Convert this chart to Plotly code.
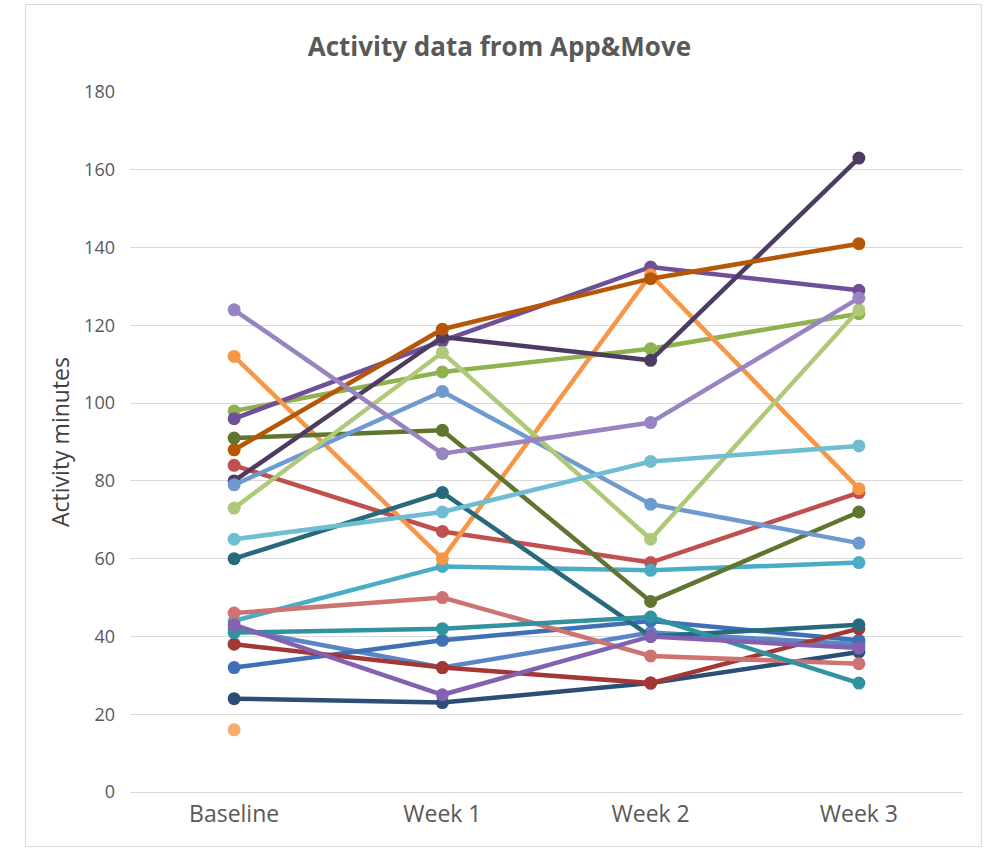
import plotly.graph_objects as go

categories = ["Baseline", "Week 1", "Week 2", "Week 3"]

# series values (activity minutes) and colours
blue = [32, 39, 44, 39]
red = [84, 67, 59, 77]
green = [98, 108, 114, 123]
purple = [96, 116, 135, 129]
aqua = [44, 58, 57, 59]
orange = [112, 60, 133, 78]
navy = [24, 23, 28, 36]
dark_red = [38, 32, 28, 42]
olive = [91, 93, 49, 72]
dark_purple = [80, 117, 111, 163]
dark_teal = [60, 77, 40, 43]
dark_orange = [88, 119, 132, 141]
light_blue = [79, 103, 74, 64]
salmon = [46, 50, 35, 33]
light_green = [73, 113, 65, 124]
light_purple = [124, 87, 95, 127]
light_aqua = [65, 72, 85, 89]
light_orange = [16, None, None, None]
teal = [41, 42, 45, 28]
violet = [43, 25, 40, 37]
mid_blue = [42, 32, 41, 38]

series = [
    ("S21", mid_blue, "#5A86C8"),
    ("S1", blue, "#3F6FB5"),
    ("S2", red, "#C0504D"),
    ("S3", green, "#8DB24E"),
    ("S4", purple, "#6F4F98"),
    ("S5", aqua, "#4BACC6"),
    ("S6", orange, "#F79646"),
    ("S7", navy, "#2C4D75"),
    ("S8", dark_red, "#A33734"),
    ("S9", olive, "#5F7530"),
    ("S10", dark_purple, "#4D3B62"),
    ("S11", dark_teal, "#276A7C"),
    ("S12", dark_orange, "#B65708"),
    ("S13", light_blue, "#6F9AD0"),
    ("S14", salmon, "#CD7371"),
    ("S15", light_green, "#AFC97A"),
    ("S16", light_purple, "#9983C0"),
    ("S17", light_aqua, "#6FBDD1"),
    ("S18", light_orange, "#F9AB6B"),
    ("S19", teal, "#31939F"),
    ("S20", violet, "#8460B0"),
]

fig = go.Figure()
for name, vals, col in series:
    fig.add_trace(go.Scatter(
        x=categories, y=vals, name=name, mode="lines+markers",
        line=dict(color=col, width=4.5),
        marker=dict(color=col, size=13),
        connectgaps=False,
    ))

font_family = "Open Sans, Noto Sans, DejaVu Sans, sans-serif"

fig.update_layout(
    width=987, height=851,
    margin=dict(l=130, r=24, t=92, b=59),
    paper_bgcolor="white", plot_bgcolor="white",
    showlegend=False,
    font=dict(family=font_family, color="#595959"),
    title=dict(text="<b>Activity data from App&Move</b>", x=0.506, xanchor="center",
               y=0.945, yanchor="middle",
               font=dict(size=26, color="#595959", family=font_family)),
)
fig.update_xaxes(
    type="category", range=[-0.5, 3.5],
    showgrid=False, showline=False, zeroline=False,
    tickfont=dict(size=23, color="#595959"), ticks="",
    ticklabelstandoff=6,
)
fig.update_yaxes(
    range=[0, 180], dtick=20, showgrid=True, gridcolor="#D9D9D9", gridwidth=1,
    zeroline=True, zerolinecolor="#D9D9D9", zerolinewidth=1,
    showline=False, tickfont=dict(size=18, color="#595959"), ticks="",
    ticklabelstandoff=14,
    title=dict(text="Activity minutes", font=dict(size=23, color="#404040"), standoff=8),
)
fig.add_shape(type="rect", xref="paper", yref="paper",
              x0=-0.1255, x1=1.022, y0=-0.078, y1=1.125,
              line=dict(color="#D9D9D9", width=1))

fig.write_html("out.html")
